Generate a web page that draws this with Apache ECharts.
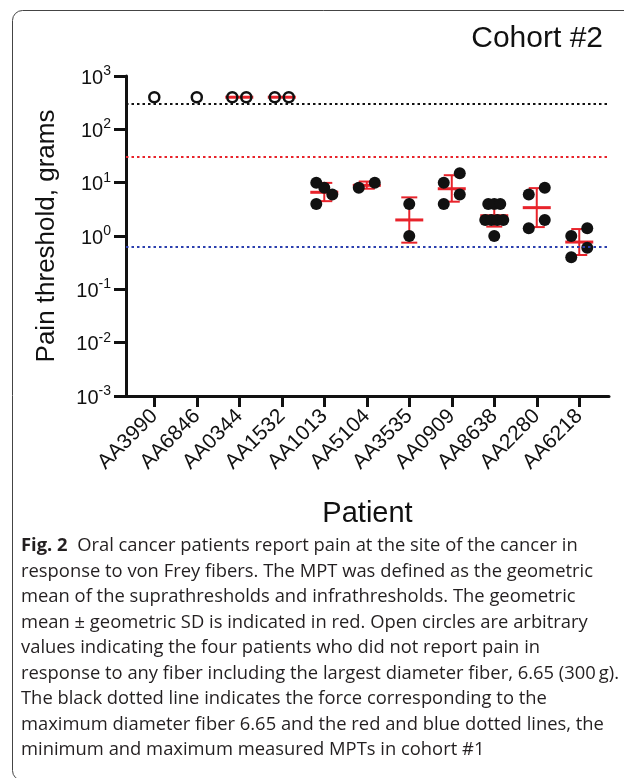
<!DOCTYPE html>
<html>
<head>
<meta charset="utf-8">
<script src="https://cdn.jsdelivr.net/npm/echarts@6/dist/echarts.min.js"></script>
<style>
  html, body { margin: 0; padding: 0; background: #fff; }
  #chart { width: 624px; height: 778px; }
</style>
</head>
<body>
<div id="chart"></div>
<script>
// ---- data ----
const patients = ['AA3990', 'AA6846', 'AA0344', 'AA1532', 'AA1013', 'AA5104',
                  'AA3535', 'AA0909', 'AA8638', 'AA2280', 'AA6218'];

// no pain reported up to the largest fiber: arbitrary values (open circles)
const noResponseValues = [[400], [400], [400, 400], [400, 400], [], [], [], [], [], [], []];

// measured pain thresholds, grams (filled circles)
const thresholdValues = [
  [], [], [], [],
  [10, 8, 6, 4],
  [8, 10],
  [4, 1],
  [10, 15, 6, 4],
  [4, 4, 4, 2, 2, 2, 2, 1],
  [6, 8, 2, 1.4],
  [1, 1.4, 0.6, 0.4]
];

// geometric mean and geometric SD range per patient
const geoMean   = [null, null, 400, 400, 6.6, 8.9, 2.0, 7.7, 2.4, 3.4, 0.77];
const geoSdLow  = [null, null, 400, 400, 4.5, 7.7, 0.75, 4.4, 1.5, 1.47, 0.44];
const geoSdHigh = [null, null, 400, 400, 9.9, 10.5, 5.3, 13.8, 3.9, 7.9, 1.35];

// reference forces: max fiber 6.65, cohort #1 max MPT, cohort #1 min MPT
const maxFiberForce = 300;
const cohort1MaxMpt = 31;
const cohort1MinMpt = 0.63;

const captionLines = [
  '{b|Fig. 2}  Oral cancer patients report pain at the site of the cancer in',
  'response to von Frey fibers. The MPT was defined as the geometric',
  'mean of the suprathresholds and infrathresholds. The geometric',
  'mean \u00b1 geometric SD is indicated in red. Open circles are arbitrary',
  'values indicating the four patients who did not report pain in',
  'response to any fiber including the largest diameter fiber, 6.65 (300\u2009g).',
  'The black dotted line indicates the force corresponding to the',
  'maximum diameter fiber 6.65 and the red and blue dotted lines, the',
  'minimum and maximum measured MPTs in cohort #1'
];

// ---- layout ----
const GRID = { left: 126, right: 15, top: 76, bottom: 382 };
const X_MIN = -0.666, X_MAX = 10.7;
const PX_PER_UNIT = (624 - GRID.left - GRID.right) / (X_MAX - X_MIN);

// horizontal spread of overlapping dots, px
const openSpread = [[0], [0], [-7, 7], [-7, 7], [], [], [], [], [], [], []];
const filledSpread = [
  [], [], [], [],
  [-8, 0, 8, -8],
  [-8, 8],
  [0, 0],
  [-8, 8, 8, -8],
  [-6, 0, 6, -9, -3, 3, 9, 0],
  [-8, 8, 8, -8],
  [-8, 8, 8, -8]
];

function toPoints(values, spread) {
  const pts = [];
  values.forEach((list, i) => {
    list.forEach((v, k) => pts.push([i + spread[i][k] / PX_PER_UNIT, v]));
  });
  return pts;
}

const RED = '#e8232b';
const BLUE = '#2b3fae';
const FONT = 'Liberation Sans, Arial, sans-serif';

const summaryData = [];
patients.forEach((p, i) => {
  if (geoMean[i] != null) summaryData.push([i, geoMean[i], geoSdLow[i], geoSdHigh[i]]);
});

function renderSummary(params, api) {
  const x = api.value(0);
  const m = api.coord([x, api.value(1)]);
  const lo = api.coord([x, api.value(2)]);
  const hi = api.coord([x, api.value(3)]);
  const thin = { stroke: RED, lineWidth: 2 };
  const children = [];
  if (Math.abs(lo[1] - hi[1]) > 0.5) {
    children.push(
      { type: 'line', shape: { x1: m[0], y1: lo[1], x2: m[0], y2: hi[1] }, style: thin },
      { type: 'line', shape: { x1: m[0] - 8, y1: lo[1], x2: m[0] + 8, y2: lo[1] }, style: thin },
      { type: 'line', shape: { x1: m[0] - 8, y1: hi[1], x2: m[0] + 8, y2: hi[1] }, style: thin }
    );
  }
  children.push({ type: 'line', shape: { x1: m[0] - 14, y1: m[1], x2: m[0] + 14, y2: m[1] },
                  style: { stroke: RED, lineWidth: 3 } });
  return { type: 'group', children };
}

function refLine(value, color) {
  return {
    type: 'line', data: [], silent: true,
    markLine: {
      silent: true, symbol: 'none', label: { show: false },
      lineStyle: { color, width: 2, type: [2.5, 3], opacity: 1 },
      emphasis: { disabled: true },
      data: [{ yAxis: value }]
    }
  };
}

// caption: scale horizontally so the widest line spans the text block
const CAPTION_FONT = 'Open Sans, Noto Sans, sans-serif';
const CAPTION_SIZE = 18.5;
const measureCtx = document.createElement('canvas').getContext('2d');
measureCtx.font = CAPTION_SIZE + 'px ' + CAPTION_FONT;
const widest = measureCtx.measureText(captionLines[5]).width;
const captionScale = 598 / widest;

const captionGraphics = captionLines.map((line, i) => ({
  type: 'text', x: 21, y: 546 + i * 25.5, scaleX: captionScale, silent: true,
  style: {
    text: line, fill: '#231f20', verticalAlign: 'middle', align: 'left',
    fontFamily: CAPTION_FONT, fontSize: CAPTION_SIZE,
    rich: { b: { fontWeight: 'bold', fontFamily: CAPTION_FONT, fontSize: CAPTION_SIZE, fill: '#231f20' } }
  }
}));

const chart = echarts.init(document.getElementById('chart'), null, { renderer: 'canvas' });

chart.setOption({
  animation: false,
  backgroundColor: '#fff',
  grid: { left: GRID.left, right: GRID.right, top: GRID.top, bottom: GRID.bottom, containLabel: false },
  xAxis: {
    type: 'value', min: X_MIN, max: X_MAX,
    name: 'Patient', nameLocation: 'middle', nameGap: 103,
    nameTextStyle: { fontFamily: FONT, fontSize: 29, color: '#111' },
    axisLine: { show: true, onZero: false, lineStyle: { color: '#111', width: 3 } },
    axisTick: { show: true, length: 11, lineStyle: { color: '#111', width: 3 },
                customValues: patients.map((p, i) => i) },
    axisLabel: { rotate: 45, margin: 17, fontFamily: FONT, fontSize: 21, color: '#111',
                 customValues: patients.map((p, i) => i),
                 formatter: v => patients[Math.round(v)] || '' },
    splitLine: { show: false }
  },
  yAxis: {
    type: 'log', logBase: 10, min: 0.001, max: 1000, interval: 1,
    name: 'Pain threshold, grams', nameLocation: 'middle', nameGap: 66, nameRotate: 90,
    nameTextStyle: { fontFamily: FONT, fontSize: 26, color: '#111' },
    axisLine: { show: true, onZero: false, lineStyle: { color: '#111', width: 3 } },
    axisTick: { show: true, length: 12, lineStyle: { color: '#111', width: 3 } },
    axisLabel: {
      margin: 15, color: '#111',
      formatter: v => '{n|10}{e|' + Math.round(Math.log10(v)) + '}',
      rich: {
        n: { fontFamily: FONT, fontSize: 20, color: '#111', lineHeight: 24, verticalAlign: 'bottom' },
        e: { fontFamily: FONT, fontSize: 14, color: '#111', lineHeight: 14, verticalAlign: 'top' }
      }
    },
    splitLine: { show: false }
  },
  graphic: [
    { type: 'rect', silent: true, z: -1,
      shape: { x: 12.5, y: 10.5, width: 640, height: 770, r: 10 },
      style: { fill: 'none', stroke: '#444', lineWidth: 1 } },
    { type: 'text', silent: true, x: 603, y: 39,
      style: { text: 'Cohort #2', fontFamily: FONT, fontSize: 30, fill: '#111',
               align: 'right', verticalAlign: 'middle' } },
    ...captionGraphics
  ],
  series: [
    refLine(maxFiberForce, '#111'),
    refLine(cohort1MaxMpt, RED),
    refLine(cohort1MinMpt, BLUE),
    {
      type: 'custom', z: 3, silent: true,
      renderItem: renderSummary,
      data: summaryData
    },
    {
      type: 'scatter', z: 4, silent: true,
      symbol: 'circle', symbolSize: 12,
      itemStyle: { color: '#111', opacity: 1 },
      data: toPoints(thresholdValues, filledSpread)
    },
    {
      type: 'scatter', z: 4, silent: true,
      symbol: 'circle', symbolSize: 10,
      itemStyle: { color: 'rgba(0,0,0,0)', borderColor: '#111', borderWidth: 2.5, opacity: 1 },
      data: toPoints(noResponseValues, openSpread)
    }
  ]
});
</script>
</body>
</html>
